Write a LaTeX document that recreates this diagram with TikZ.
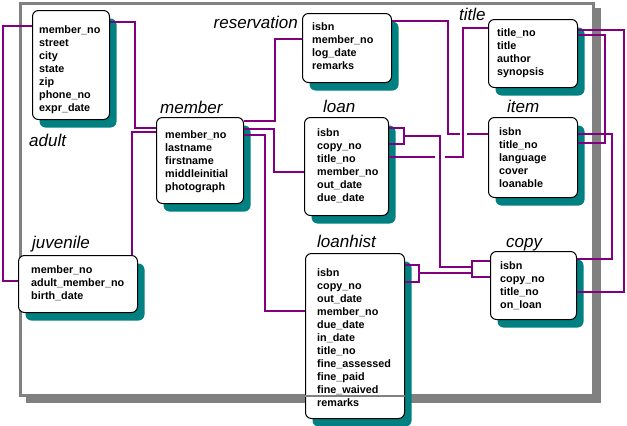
\documentclass[tikz,border=0pt]{standalone}
\usepackage{fontspec}
\setmainfont{Liberation Sans}
\usetikzlibrary{shadows}
\definecolor{conn}{HTML}{800080}
\definecolor{shad}{HTML}{008080}
\definecolor{frm}{HTML}{808080}
\begin{document}
\begin{tikzpicture}[x=1pt,y=-1pt,
  tbl/.style={draw=black, line width=1pt, fill=white, rounded corners=6pt, inner sep=0pt, anchor=north west,
    drop shadow={fill=shad, opacity=1, shadow xshift=7pt, shadow yshift=-8pt}},
  fields/.style={anchor=north west, inner sep=0pt, align=left, font=\fontsize{10.8}{13}\selectfont\bfseries},
  lbl/.style={inner sep=0pt, font=\fontsize{17}{20}\selectfont\itshape},
  rel/.style={draw=conn, line width=1.1pt},
  relthick/.style={draw=conn, line width=1.8pt},
]
\path[use as bounding box] (0,0) rectangle (627,426);
% frame
\fill[frm] (26,8) rectangle (601,403);
\draw[frm, line width=3pt, fill=white] (20.5,3) rectangle (593.5,395.5);

% tables
\node[tbl, minimum width=77pt, minimum height=109pt] (adult) at (32,10) {};
\node[tbl, minimum width=87pt, minimum height=86pt] (member) at (156,117) {};
\node[tbl, minimum width=89pt, minimum height=69pt] (res) at (302,13) {};
\node[tbl, minimum width=89pt, minimum height=68pt] (title) at (488,19) {};
\node[tbl, minimum width=89pt, minimum height=80pt] (item) at (488,117) {};
\node[tbl, minimum width=84pt, minimum height=98pt] (loan) at (304,117) {};
\node[tbl, minimum width=119pt, minimum height=57pt] (juv) at (18,255) {};
\node[tbl, minimum width=99pt, minimum height=165pt] (lh) at (305,253) {};
\node[tbl, minimum width=86pt, minimum height=68pt] (copy) at (490,251) {};

% frame bottom line seen through loanhist
\draw[frm, line width=2pt] (lh.west |- 0,395.5) -- (lh.east |- 0,395.5);

% fields
\node[fields] (adultf) at (39,23) {\rule{0pt}{10pt}member\_no\\street\\city\\state\\zip\\phone\_no\\expr\_date};
\node[fields] (memberf) at (165,128) {\rule{0pt}{10pt}member\_no\\lastname\\firstname\\middleinitial\\photograph};
\node[fields] (resf) at (312,20) {\rule{0pt}{10pt}isbn\\member\_no\\log\_date\\remarks};
\node[fields] (titlef) at (497,26) {\rule{0pt}{10pt}title\_no\\title\\author\\synopsis};
\node[fields] (itemf) at (499,125) {\rule{0pt}{10pt}isbn\\title\_no\\language\\cover\\loanable};
\node[fields] (loanf) at (317,126) {\rule{0pt}{10pt}isbn\\copy\_no\\title\_no\\member\_no\\out\_date\\due\_date};
\node[fields] (juvf) at (31,263) {\rule{0pt}{10pt}member\_no\\adult\_member\_no\\birth\_date};
\node[fields] (lhf) at (317,266) {\rule{0pt}{10pt}isbn\\copy\_no\\out\_date\\member\_no\\due\_date\\in\_date\\title\_no\\fine\_assessed\\fine\_paid\\fine\_waived\\remarks};
\node[fields] (copyf) at (500,259) {\rule{0pt}{10pt}isbn\\copy\_no\\title\_no\\on\_loan};

% labels
\node[lbl, anchor=base west] (adultl) at (29,146) {adult};
\node[lbl, anchor=base west] (memberl) at (160,113) {member};
\node[lbl, anchor=base east] (resl) at (298,28) {reservation};
\node[lbl, anchor=base west] (titlel) at (459,20.5) {title};
\node[lbl, anchor=base west] (iteml) at (507,112.5) {item};
\node[lbl, anchor=base west] (loanl) at (323,112.5) {loan};
\node[lbl, anchor=base west] (juvl) at (32,248) {juvenile};
\node[lbl, anchor=base west] (lhl) at (317,247.5) {loanhist};
\node[lbl, anchor=base west] (copyl) at (506,247) {copy};

% connectors
\draw[rel] (adult.west |- 0,26) -- (3,26) |- (juv.west |- 0,281);
\draw[rel] (adult.east |- 0,22) -| (135,128) -- (member.west |- 0,128);
\draw[rel] (member.west |- 0,132) -| (juv.north -| 132,0);
\draw[rel] (member.east |- 0,121) -| (275,39) -- (res.west |- 0,39);
\draw[rel] (member.east |- 0,129) -| (274,172) -- (loan.west |- 0,172);
\draw[relthick] (member.east |- 0,135) -| (265,311) -- (lh.west |- 0,311);
\draw[relthick] (res.east |- 0,21) -| (448,134) -- (item.west |- 0,134);
\draw[rel, preaction={draw=white, line width=7pt, shorten <=16pt}] (loan.east |- 0,157) -| (463,28) -- (title.west |- 0,28);
\coordinate (lb) at (404,136);
\coordinate (cb) at (472,267);
\draw[rel, preaction={draw=white, line width=10pt}] (lb) -| (cb -| 440,0) -- (cb);
\draw[rel] (loan.east |- 0,128) -- (404,128) -- (404,144) -- (loan.east |- 0,144);
\draw[rel] (copy.west |- 0,261) -- (472,261) -- (472,277) -- (copy.west |- 0,277);
\draw[rel] (lh.east |- 0,265) -- (419,265) -- (419,282) -- (lh.east |- 0,282);
\coordinate (lhb) at (419,273);
\coordinate (cb2) at (472,273);
\draw[rel] (lhb) -- (cb2);
\draw[relthick] (title.east |- 0,35) -| (605,143) -- (item.east |- 0,143);
\draw[rel] (title.east |- 0,30) -| (624,292) -- (copy.east |- 0,292);
\draw[rel] (item.east |- 0,134) -| (612,259) -- (copy.east |- 0,259);
\end{tikzpicture}
\end{document}
